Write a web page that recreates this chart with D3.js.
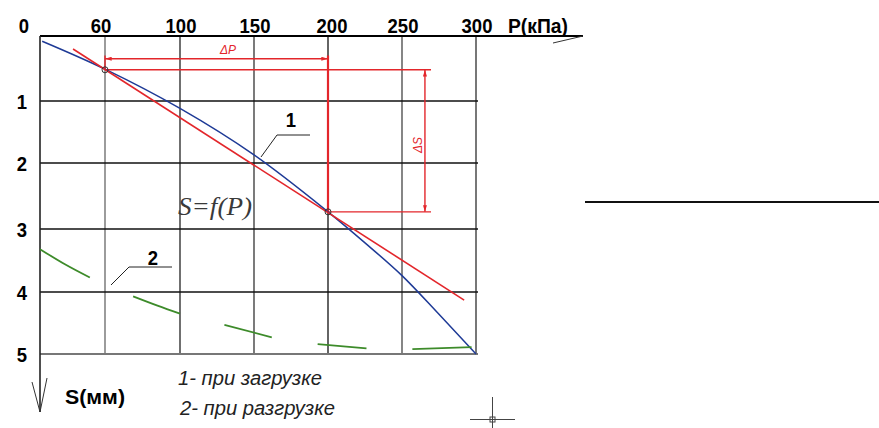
<!DOCTYPE html>
<html><head><meta charset="utf-8">
<script src="https://cdn.jsdelivr.net/npm/d3@7"></script>
<style>html,body{margin:0;padding:0;background:#fff;}svg{display:block;}</style>
</head><body>
<svg id="c" width="879" height="428"></svg>
<script>
// ---- data ----
const xTickValues = [0, 60, 100, 150, 200, 250, 300];
const xTickLabels = ["0", "60", "100", "150", "200", "250", "300"];
const yTickValues = [1, 2, 3, 4, 5];
const yTickLabels = ["1", "2", "3", "4", "5"];
const xAxisTitle = "P(кПа)";
const yAxisTitle = "S(мм)";
// curve 1 (loading)
const loadP = [2, 60, 100, 150, 200, 225, 250, 275, 300];
const loadS = [0.08, 0.51, 1.12, 1.87, 2.74, 3.22, 3.74, 4.36, 5.0];
// curve 2 (unloading), drawn as broken segments
const unloadP = [0, 23, 46, 75, 88, 100, 130, 162, 193, 226, 257, 297];
const unloadS = [3.32, 3.56, 3.77, 4.07, 4.22, 4.35, 4.53, 4.73, 4.84, 4.91, 4.92, 4.89];
const unloadSegments = [[0, 2], [3, 5], [6, 7], [8, 9], [10, 11]];
// secant line
const secantP = [30.5, 292];
const secantS = [0.2, 4.13];
// marked points
const markP = [60, 200];
const markS = [0.52, 2.74];
const legendLabels = ["1- при загрузке", "2- при разгрузке"];
const formulaLabel = "S=f(P)";

// ---- scales ----
const x = d3.scaleLinear().domain(xTickValues).range([40, 105, 180, 254, 328, 402, 476]);
const y = d3.scaleLinear().domain([0, 1, 2, 3, 4, 5]).range([36, 101, 163, 229, 292, 354]);

const svg = d3.select("#c");
const BLUE = "#1e3a96", RED = "#e3262b", GREEN = "#3d8b2a";

// defs arrow markers
const defs = svg.append("defs");
defs.append("marker").attr("id", "arr").attr("viewBox", "0 0 10 6").attr("refX", 10).attr("refY", 3)
  .attr("markerWidth", 8).attr("markerHeight", 4).attr("markerUnits", "userSpaceOnUse").attr("orient", "auto-start-reverse")
  .append("path").attr("d", "M0,0 L10,3 L0,6 Z").attr("fill", RED);

// grid
const gridV = [60, 100, 150, 200, 250, 300];
const vColors = {60: "#666", 100: "#222", 150: "#333", 200: "#111", 250: "#444", 300: "#777"};
svg.append("g").selectAll("line").data(gridV).join("line")
  .attr("x1", d => x(d)).attr("x2", d => x(d)).attr("y1", y(0)).attr("y2", y(5))
  .attr("stroke", d => vColors[d]).attr("stroke-width", d => d === 300 ? 2 : 1.3);
svg.append("g").selectAll("line").data(yTickValues).join("line")
  .attr("x1", x(0)).attr("x2", x(300) + 2).attr("y1", d => y(d)).attr("y2", d => y(d))
  .attr("stroke", d => d === 5 ? "#777" : "#111").attr("stroke-width", d => d === 5 ? 2 : 1.3);

// axes
svg.append("line").attr("x1", x(0)).attr("x2", 583).attr("y1", y(0)).attr("y2", y(0)).attr("stroke", "#000").attr("stroke-width", 2);
svg.append("line").attr("x1", 553).attr("y1", 43).attr("x2", 583).attr("y2", 36).attr("stroke", "#333").attr("stroke-width", 1);
svg.append("line").attr("x1", x(0)).attr("x2", x(0)).attr("y1", y(0)).attr("y2", 412).attr("stroke", "#222").attr("stroke-width", 1.6);
svg.append("line").attr("x1", 32).attr("y1", 382).attr("x2", 40).attr("y2", 412).attr("stroke", "#333").attr("stroke-width", 1);
svg.append("line").attr("x1", 47).attr("y1", 378).attr("x2", 40).attr("y2", 412).attr("stroke", "#333").attr("stroke-width", 1);

// tick labels
const boldFont = "'Liberation Sans', Arial, sans-serif";
svg.append("g").selectAll("text").data(xTickValues).join("text")
  .attr("transform", (d, i) => `translate(${x(d) + (d === 0 ? -16 : d === 200 ? 4 : d === 60 ? -4 : 1)},33) scale(0.88,1)`)
  .attr("text-anchor", "middle").attr("font-family", boldFont).attr("font-weight", "bold").attr("font-size", 21)
  .text((d, i) => xTickLabels[i]);
svg.append("g").selectAll("text").data(yTickValues).join("text")
  .attr("transform", d => `translate(22,${y(d) + 7.5}) scale(0.88,1)`)
  .attr("text-anchor", "middle").attr("font-family", boldFont).attr("font-weight", "bold").attr("font-size", 21)
  .text((d, i) => yTickLabels[i]);
svg.append("text").attr("transform", "translate(508,33) scale(0.92,1)")
  .attr("font-family", boldFont).attr("font-weight", "bold").attr("font-size", 21).text(xAxisTitle);
svg.append("text").attr("x", 65).attr("y", 404).attr("textLength", 60).attr("lengthAdjust", "spacingAndGlyphs")
  .attr("font-family", boldFont).attr("font-weight", "bold").attr("font-size", 20).text(yAxisTitle);

// red dimension lines (derived from marked points)
const dimS = 0.35;
const extP = 269.6;
const dimSx = 265.5;
const red = svg.append("g").attr("stroke", RED).attr("stroke-width", 1.4).attr("fill", "none");
red.append("line").attr("x1", x(markP[0])).attr("x2", x(markP[0])).attr("y1", y(0.3)).attr("y2", y(markS[0]));
red.append("line").attr("x1", x(markP[1])).attr("x2", x(markP[1])).attr("y1", y(0.3)).attr("y2", y(markS[1]))
  .attr("stroke-width", 2.2);
red.append("line").attr("x1", x(markP[0])).attr("x2", x(extP)).attr("y1", y(markS[0])).attr("y2", y(markS[0]));
red.append("line").attr("x1", x(markP[1])).attr("x2", x(extP)).attr("y1", y(markS[1])).attr("y2", y(markS[1]));
red.append("line").attr("x1", x(markP[0])).attr("x2", x(markP[1])).attr("y1", y(dimS)).attr("y2", y(dimS))
  .attr("marker-start", "url(#arr)").attr("marker-end", "url(#arr)");
red.append("line").attr("x1", x(dimSx)).attr("x2", x(dimSx)).attr("y1", y(markS[0])).attr("y2", y(markS[1]))
  .attr("marker-start", "url(#arr)").attr("marker-end", "url(#arr)");
svg.append("text").attr("x", 228).attr("y", 54).attr("text-anchor", "middle").attr("fill", RED)
  .attr("font-family", "'Liberation Sans', Arial, sans-serif").attr("font-style", "italic").attr("font-size", 12).text("ΔP");
svg.append("text").attr("transform", "translate(422,145) rotate(-90)").attr("text-anchor", "middle").attr("fill", RED)
  .attr("font-family", "'Liberation Sans', Arial, sans-serif").attr("font-style", "italic").attr("font-size", 12).text("ΔS");

// curves
const line = d3.line().x(d => x(d[0])).y(d => y(d[1]));
svg.append("path").datum(loadP.map((p, i) => [p, loadS[i]]))
  .attr("d", line.curve(d3.curveCatmullRom.alpha(0.5))).attr("fill", "none").attr("stroke", BLUE).attr("stroke-width", 1.5);
svg.append("path").datum(secantP.map((p, i) => [p, secantS[i]]))
  .attr("d", d3.line().x(d => x(d[0])).y(d => y(d[1]))).attr("fill", "none").attr("stroke", RED).attr("stroke-width", 1.6);
const uline = d3.line().x(d => x(d[0])).y(d => y(d[1])).curve(d3.curveCatmullRom.alpha(0.5));
svg.append("g").selectAll("path").data(unloadSegments).join("path")
  .attr("d", s => uline(d3.range(s[0], s[1] + 1).map(i => [unloadP[i], unloadS[i]])))
  .attr("fill", "none").attr("stroke", GREEN).attr("stroke-width", 1.8);

// marked points
svg.append("g").selectAll("circle").data(markP).join("circle")
  .attr("cx", d => x(d)).attr("cy", (d, i) => y(markS[i])).attr("r", 3)
  .attr("fill", "none").attr("stroke", "#333").attr("stroke-width", 1);

// curve labels with leaders
const lead = svg.append("g").attr("stroke", "#222").attr("stroke-width", 1).attr("fill", "none");
lead.append("polyline").attr("points", "261,157 277,135 310,135");
lead.append("polyline").attr("points", "111,285 129,267 172,267");
svg.append("text").attr("transform", "translate(291,127) scale(0.88,1)").attr("text-anchor", "middle")
  .attr("font-family", boldFont).attr("font-weight", "bold").attr("font-size", 21).text("1");
svg.append("text").attr("transform", "translate(153,265) scale(0.88,1)").attr("text-anchor", "middle")
  .attr("font-family", boldFont).attr("font-weight", "bold").attr("font-size", 21).text("2");

// formula
svg.append("text").attr("x", 178).attr("y", 215).attr("textLength", 74).attr("lengthAdjust", "spacingAndGlyphs")
  .attr("font-family", "'Liberation Serif', 'Times New Roman', serif").attr("font-style", "italic").attr("font-size", 26)
  .attr("fill", "#3a3a3a").text(formulaLabel);

// legend
svg.append("text").attr("x", 178).attr("y", 385).attr("textLength", 144).attr("lengthAdjust", "spacingAndGlyphs")
  .attr("font-family", "'Liberation Sans', Arial, sans-serif").attr("font-style", "italic").attr("font-size", 20)
  .attr("fill", "#222").text(legendLabels[0]);
svg.append("text").attr("x", 180).attr("y", 415).attr("textLength", 155).attr("lengthAdjust", "spacingAndGlyphs")
  .attr("font-family", "'Liberation Sans', Arial, sans-serif").attr("font-style", "italic").attr("font-size", 20)
  .attr("fill", "#222").text(legendLabels[1]);

// crosshair cursor
const cur = svg.append("g").attr("stroke", "#444").attr("stroke-width", 1).attr("fill", "none");
cur.append("line").attr("x1", 470).attr("x2", 515).attr("y1", 419.5).attr("y2", 419.5);
cur.append("line").attr("x1", 492.5).attr("x2", 492.5).attr("y1", 397).attr("y2", 428);
cur.append("rect").attr("x", 490).attr("y", 417).attr("width", 5).attr("height", 5);

// right separator line
svg.append("line").attr("x1", 585).attr("x2", 879).attr("y1", 202).attr("y2", 202).attr("stroke", "#111").attr("stroke-width", 2);
</script>
</body></html>
